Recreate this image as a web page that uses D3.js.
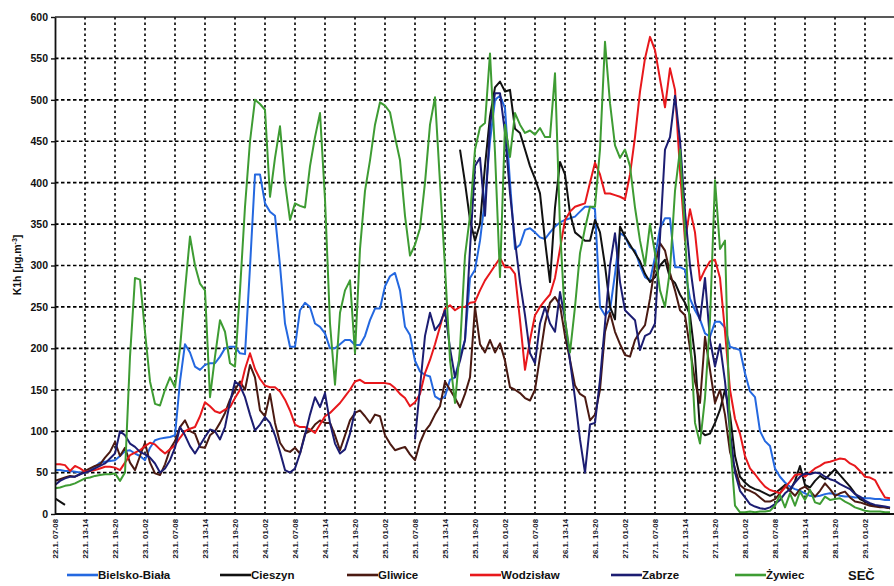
<!DOCTYPE html>
<html>
<head>
<meta charset="utf-8">
<script src="https://cdn.jsdelivr.net/npm/d3@7"></script>
<style>
  body { margin: 0; background: #fff; }
  svg { display: block; font-family: "Liberation Sans", Arial, sans-serif; }
</style>
</head>
<body>
<svg id="chart" width="894" height="586"></svg>
<script>
// Hourly K1h concentrations, 22.1. 07-08 onwards (one value per hour, null = no data)
const hourTickLabels = [
  "22.1. 07-08", "22.1. 13-14", "22.1. 19-20",
  "23.1. 01-02", "23.1. 07-08", "23.1. 13-14", "23.1. 19-20",
  "24.1. 01-02", "24.1. 07-08", "24.1. 13-14", "24.1. 19-20",
  "25.1. 01-02", "25.1. 07-08", "25.1. 13-14", "25.1. 19-20",
  "26.1. 01-02", "26.1. 07-08", "26.1. 13-14", "26.1. 19-20",
  "27.1. 01-02", "27.1. 07-08", "27.1. 13-14", "27.1. 19-20",
  "28.1. 01-02", "28.1. 07-08", "28.1. 13-14", "28.1. 19-20",
  "29.1. 01-02"
];

const yTickValues = [0, 50, 100, 150, 200, 250, 300, 350, 400, 450, 500, 550, 600];

const bielskoBiala = [
  53, 53, 52, 52, 51, 50,
  50, 53, 57, 62, 63, 64,
  65, 70, 76, 77, 73, 70,
  65, 80, 89, 91, 92, 93,
  95, 160, 205, 195, 178, 174,
  180, 182, 182, 190, 200, 202,
  202, 194, 193, 298, 410, 410,
  375, 365, 360, 300, 230, 202,
  202, 246, 255, 250, 230, 226,
  218, 200, 200, 205, 210, 210,
  204, 204, 215, 234, 248, 248,
  275, 287, 291, 270, 226, 216,
  185, 172, 168, 166, 142, 138,
  142, 162, 165, 190, 210, 285,
  295, 330, 380, 450, 500, 505,
  490, 400, 320, 325, 343, 345,
  340, 334, 332, 340, 347, 352,
  355, 357, 359, 365, 371, 371,
  368, 250, 240, 246, 290, 339,
  335, 322, 318, 300, 286, 282,
  310, 345, 357, 357, 298, 298,
  295, 260, 246, 235, 218, 214,
  232, 232, 225, 202, 200, 198,
  170, 148, 141, 100, 88, 82,
  55, 45, 38, 33, 30, 28,
  25, 22, 21, 22, 24, 25,
  24, 22, 21, 21, 20, 20,
  19, 19, 18, 18, 17, 17
];

const cieszyn = [
  19, 15, 11, null, null, null,
  null, null, null, null, null, null,
  null, null, null, null, null, null,
  null, null, null, null, null, null,
  null, null, null, null, null, null,
  null, null, null, null, null, null,
  null, null, null, null, null, null,
  null, null, null, null, null, null,
  null, null, null, null, null, null,
  null, null, null, null, null, null,
  null, null, null, null, null, null,
  null, null, null, null, null, null,
  null, null, null, null, null, null,
  null, null, null, 440, 400, 355,
  330, 350, 420, 480, 515, 522,
  510, 512, 465, 460, 440, 420,
  405, 387, 330, 280, 370, 425,
  410, 363, 340, 335, 330, 330,
  355, 340, 300, 250, 235, 347,
  335, 325, 315, 305, 290, 280,
  286, 300, 307, 285, 279, 265,
  255, 240, 190, 101, 95, 97,
  110, 126, 150, 120, 70, 45,
  38, 33, 30, 28, 25, 22,
  25, 30, 35, 28, 40, 58,
  35, 32, 40, 46, 42, 48,
  54, 47, 40, 33, 25, 18,
  15, 12, 10, 9, 8, 7
];

const gliwice = [
  40, 42, 44, 46, 45, 48,
  52, 55, 58, 60, 68, 75,
  87, 70, 80, 62, 53, 70,
  86, 62, 49, 47, 60, 78,
  88, 105, 113, 100, 97, 81,
  80, 95, 100, 110, 122, 138,
  150, 160, 150, 180, 165, 125,
  118, 145, 110, 86, 77, 75,
  80, 73, 97, 100, 108, 113,
  110, 110, 95, 77, 95, 113,
  122, 125, 118, 110, 120, 118,
  95, 85, 77, 79, 81, 72,
  65, 86, 100, 108, 120, 130,
  160, 150, 140, 129, 145, 165,
  250, 205, 195, 210, 195, 206,
  185, 153, 150, 146, 140, 137,
  150, 190, 230, 255, 262, 252,
  215, 186, 155, 145, 141, 113,
  120, 150, 220, 243, 220, 205,
  192, 190, 210, 220, 228, 260,
  300, 327, 318, 291, 270, 246,
  240, 200, 160, 134, 214, 174,
  134, 150, 120, 75, 55, 35,
  30, 28, 25, 20, 15, 15,
  18, 25, 35, 28, 22, 30,
  33, 28, 21, 28, 37, 30,
  22, 25, 27, 20, 15, 14,
  12, 10, 9, 8, 8, 7
];

const wodzislaw = [
  60, 60, 59, 52, 58, 55,
  51, 52, 53, 55, 57, 57,
  56, 53, 62, 71, 74, 77,
  82, 86, 84, 78, 73, 78,
  83, 92, 100, 103, 105, 118,
  135, 130, 124, 122, 126, 129,
  140, 150, 175, 194, 175, 163,
  155, 153, 153, 148, 138, 125,
  108, 105, 105, 102, 98, 108,
  118, 122, 128, 134, 142, 150,
  160, 162, 158, 158, 158, 158,
  158, 157, 152, 145, 140, 130,
  135, 145, 170, 186, 205, 226,
  248, 252, 246, 250, 250, 255,
  256, 270, 282, 291, 300, 309,
  298, 298, 290, 234, 174, 210,
  240, 250, 258, 265, 285, 320,
  355, 365, 371, 373, 375, 400,
  424, 410, 387, 387, 385, 383,
  380, 410, 455, 510, 550, 576,
  560, 525, 491, 538, 512, 415,
  330, 368, 340, 282, 295, 305,
  307, 285, 220, 150, 115, 97,
  70, 55, 48, 40, 33, 29,
  27, 25, 32, 39, 47, 48,
  45, 50, 55, 58, 62, 63,
  65, 67, 66, 61, 58, 52,
  45, 44, 41, 30, 20, 19
];

const zabrze = [
  35, 40, 43, 45, 45, 48,
  50, 52, 55, 58, 61, 67,
  73, 100, 95, 85, 81, 75,
  72, 68, 61, 50, 55, 65,
  80, 105, 95, 82, 73, 83,
  93, 102, 100, 90, 105, 135,
  160, 155, 141, 120, 101, 108,
  117, 110, 95, 75, 53, 50,
  55, 73, 95, 120, 141, 129,
  146, 110, 85, 73, 78, 97,
  125, null, null, null, null, null,
  null, null, null, null, null, null,
  90, 153, 215, 243, 222, 230,
  246, 200, 165, 185, 210, 320,
  420, 430, 360, 470, 508, 508,
  460, 387, 330, 280, 240, 194,
  182, 230, 250, 230, 220, 268,
  235, 185, 140, 90, 50, 108,
  110, 162, 230, 300, 339, 280,
  246, 240, 234, 198, 215, 218,
  230, 334, 440, 455, 505, 451,
  365, 300, 255, 234, 285, 210,
  178, 205, 160, 100, 50, 28,
  20, 12, 9, 7, 6, 8,
  12, 17, 25, 30, 38, 45,
  49, 48, 50, 49, 45, 42,
  40, 36, 33, 30, 24, 21,
  16, 13, 11, 10, 9, 8
];

const zywiec = [
  31, 32, 34, 35, 37, 40,
  43, 44, 46, 47, 48, 48,
  49, 40, 50, 190, 285, 283,
  220, 160, 133, 131, 150, 165,
  153, 200, 270, 335, 300, 278,
  270, 141, 190, 234, 220, 182,
  178, 270, 371, 450, 500, 495,
  488, 383, 430, 468, 400, 355,
  375, 372, 370, 420, 455, 484,
  380, 230, 156, 243, 270, 282,
  194, 320, 390, 427, 470, 497,
  493, 485, 455, 427, 360, 312,
  325, 345, 400, 470, 503, 400,
  298, 186, 134, 200, 312, 360,
  440, 467, 472, 556, 436, 286,
  470, 431, 484, 470, 460, 463,
  458, 466, 455, 455, 532, 346,
  234, 195, 250, 315, 345, 371,
  371, 440, 570, 496, 445, 430,
  440, 420, 370, 330, 300, 350,
  315, 270, 250, 295, 390, 440,
  340, 220, 110, 85, 140, 234,
  403, 320, 330, 90, 10, 2,
  2, 3, 2, 3, 3, 4,
  10, 23, 8, 25, 10, 27,
  17, 29, 14, 12, 21, 17,
  18, 19, 15, 12, 8, 6,
  4, 3, 3, 3, 2, 2
];

const stations = [
  { name: "Bielsko-Biała", values: bielskoBiala, color: "#2468e0" },
  { name: "Cieszyn",       values: cieszyn,      color: "#111111" },
  { name: "Gliwice",       values: gliwice,      color: "#4b1a12" },
  { name: "Wodzisław",     values: wodzislaw,    color: "#e8181c" },
  { name: "Zabrze",        values: zabrze,       color: "#1c1d72" },
  { name: "Żywiec",        values: zywiec,       color: "#3e9c33" }
];

// ---- layout ----
const plot = { left: 55, top: 17, bottom: 514, right: 894 };
const hoursPerTick = 6;

const svg = d3.select("#chart");

const x = d3.scaleLinear().domain([0, 168]).range([plot.left, plot.left + 840]);
const y = d3.scaleLinear().domain([0, 600]).range([plot.bottom, plot.top]);

// dotted grid
const grid = svg.append("g");
grid.selectAll("line.h")
  .data(yTickValues.filter(v => v > 0 && v < 600))
  .join("line")
  .attr("x1", plot.left).attr("x2", plot.right)
  .attr("y1", d => y(d)).attr("y2", d => y(d))
  .attr("stroke", "#000").attr("stroke-width", 1.6)
  .attr("stroke-dasharray", "3.5,2.5");

const tickIdx = d3.range(0, 163, hoursPerTick);
grid.selectAll("line.v")
  .data(d3.range(hoursPerTick, 169, hoursPerTick))
  .join("line")
  .attr("x1", d => x(d)).attr("x2", d => x(d))
  .attr("y1", plot.top).attr("y2", plot.bottom)
  .attr("stroke", "#000").attr("stroke-width", 1.6)
  .attr("stroke-dasharray", "2.5,3");

// top frame
svg.append("line")
  .attr("x1", plot.left).attr("x2", plot.right)
  .attr("y1", y(600)).attr("y2", y(600))
  .attr("stroke", "#222").attr("stroke-width", 1.6);

// series
svg.append("clipPath").attr("id", "plotclip")
  .append("rect")
  .attr("x", plot.left).attr("y", 0)
  .attr("width", plot.right - plot.left).attr("height", plot.bottom + 2);

const line = d3.line()
  .defined(d => d != null)
  .x((d, i) => x(i))
  .y(d => y(d));

svg.append("g").attr("clip-path", "url(#plotclip)")
  .selectAll("path")
  .data(stations)
  .join("path")
  .attr("fill", "none")
  .attr("stroke", d => d.color)
  .attr("stroke-width", 2)
  .attr("stroke-linejoin", "round")
  .attr("d", d => line(d.values));

// y axis
const yAxis = svg.append("g")
  .attr("transform", `translate(${plot.left},0)`)
  .call(d3.axisLeft(y).tickValues(yTickValues).tickSize(4).tickSizeOuter(0).tickPadding(3));
yAxis.select(".domain").attr("stroke", "#111").attr("stroke-width", 1.8);
yAxis.selectAll(".tick line").attr("stroke", "#111").attr("stroke-width", 1.4);
yAxis.selectAll(".tick text")
  .attr("font-size", 10.5).attr("font-weight", "bold")
  .attr("font-family", "Liberation Sans, Arial, sans-serif").attr("fill", "#111");

// x axis
const xAxis = svg.append("g")
  .attr("transform", `translate(0,${plot.bottom})`)
  .call(d3.axisBottom(x).tickValues(tickIdx)
    .tickFormat((d, i) => hourTickLabels[i]).tickSize(0).tickSizeOuter(0));
xAxis.select(".domain").attr("stroke", "#111").attr("stroke-width", 1.8)
  .attr("d", `M${plot.left},0H${plot.right}`);
xAxis.selectAll(".tick text")
  .attr("transform", "rotate(-90)")
  .attr("x", -5).attr("y", 0).attr("dy", "0.35em")
  .style("text-anchor", "end")
  .attr("font-size", 7.8).attr("font-weight", "bold")
  .attr("font-family", "Liberation Sans, Arial, sans-serif").attr("fill", "#1a1a2a");

// y title
const yTitle = svg.append("text")
  .attr("transform", "translate(21,265) rotate(-90)")
  .attr("text-anchor", "middle")
  .attr("font-size", 10.5).attr("font-weight", "bold").attr("fill", "#111");
yTitle.append("tspan").text("K1h [µg.m");
yTitle.append("tspan").text("-3").attr("font-size", 7).attr("dy", -4);
yTitle.append("tspan").text("]").attr("dy", 4);

// legend
const legendX = [67, 220, 347, 470, 611, 735];
const legendY = 575;
const legend = svg.append("g");
stations.forEach((s, i) => {
  const g = legend.append("g").attr("transform", `translate(${legendX[i]},${legendY})`);
  g.append("line").attr("x1", 0).attr("x2", 31).attr("y1", 0).attr("y2", 0)
    .attr("stroke", s.color).attr("stroke-width", 2.6);
  g.append("text").attr("x", 31).attr("y", 0).attr("dy", "0.36em")
    .attr("font-size", 11.5).attr("font-weight", "bold").attr("fill", "#111")
    .text(s.name);
});
svg.append("text").attr("x", 848).attr("y", legendY).attr("dy", "0.36em")
  .attr("font-size", 13).attr("font-weight", "bold").attr("fill", "#111")
  .text("SEČ");
</script>
</body>
</html>
